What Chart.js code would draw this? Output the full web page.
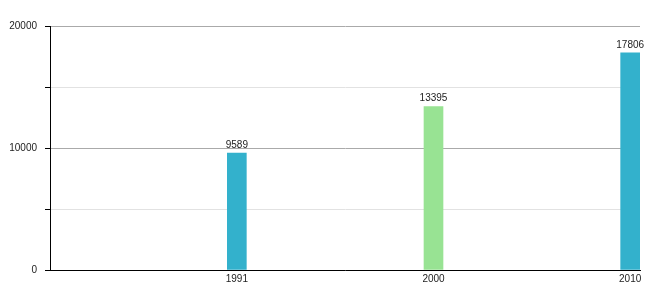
<!DOCTYPE html>
<html>
<head>
<meta charset="utf-8">
<script src="https://cdn.jsdelivr.net/npm/chart.js@4/dist/chart.umd.min.js"></script>
<style>
  html, body { margin: 0; padding: 0; background: #fff; }
  #chart { display: block; }
</style>
</head>
<body>
<canvas id="chart" width="660" height="300"></canvas>
<script>
// Données
const years = ['1991', '2000', '2010'];
const population = [9589, 13395, 17806];
const barColors = ['#33b1cc', '#98e393', '#33b1cc'];
const yTicks = [0, 5000, 10000, 15000, 20000];

// Étiquettes de valeur au-dessus des barres
const valueLabels = {
  id: 'valueLabels',
  afterDatasetsDraw(chart) {
    const ctx = chart.ctx;
    const meta = chart.getDatasetMeta(0);
    ctx.save();
    ctx.font = '10px "Liberation Sans", Arial, sans-serif';
    ctx.fillStyle = '#222';
    ctx.textAlign = 'center';
    ctx.textBaseline = 'bottom';
    meta.data.forEach((bar, i) => {
      ctx.fillText(String(population[i]), bar.x, bar.y - 3);
    });
    ctx.restore();
  }
};

const font = { family: '"Liberation Sans", Arial, sans-serif', size: 10 };

new Chart(document.getElementById('chart'), {
  type: 'bar',
  data: {
    datasets: [{
      data: population.map((v, i) => ({ x: i + 1, y: v })),
      backgroundColor: barColors,
      barThickness: 19,
      borderWidth: 0
    }]
  },
  options: {
    responsive: false,
    animation: false,
    layout: { padding: { top: 26, right: 20, left: 0, bottom: 0 } },
    plugins: { legend: { display: false }, tooltip: { enabled: false } },
    scales: {
      x: {
        type: 'linear',
        offset: false,
        min: 0.05,
        max: 3.05,
        afterFit: (s) => { s.height = 30; },
        afterBuildTicks: (s) => { s.ticks = years.map((y, i) => ({ value: i + 1 })); },
        grid: { display: false, drawTicks: false },
        border: { display: true, color: '#000', width: 1 },
        ticks: {
          font,
          color: '#222',
          padding: 3,
          maxRotation: 0,
          autoSkip: false,
          callback: (v) => years[v - 1] ?? ''
        }
      },
      y: {
        min: 0,
        max: 20000,
        afterFit: (s) => { s.width = 50; },
        afterBuildTicks: (s) => { s.ticks = yTicks.map(v => ({ value: v })); },
        grid: {
          color: (c) => (c.tick && c.tick.value % 10000 === 0) ? '#aaaaaa' : '#e2e2e2',
          tickColor: '#000',
          tickLength: 5,
          drawTicks: true
        },
        border: { display: true, color: '#000', width: 1 },
        ticks: {
          font,
          color: '#222',
          padding: 8,
          callback: (v) => v % 10000 === 0 ? String(v) : ''
        }
      }
    }
  },
  plugins: [valueLabels]
});
</script>
</body>
</html>
